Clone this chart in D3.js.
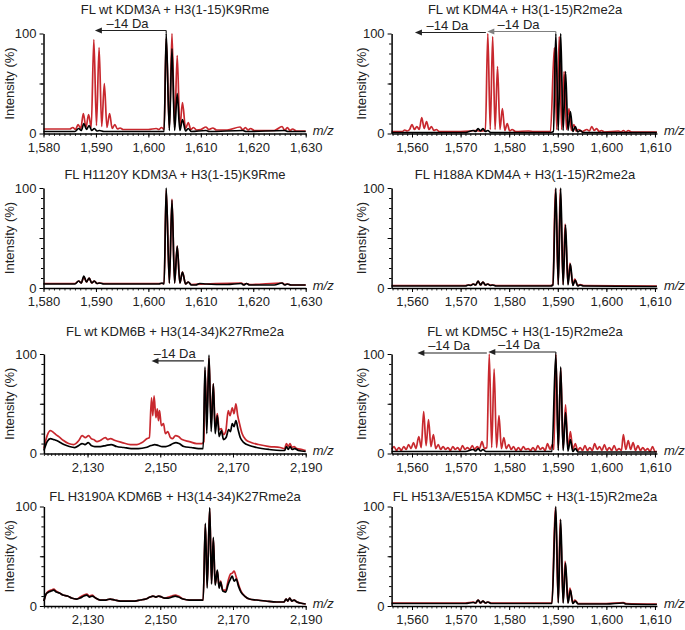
<!DOCTYPE html>
<html>
<head>
<meta charset="utf-8">
<script src="https://cdn.jsdelivr.net/npm/d3@7"></script>
<style>
  body { margin: 0; background: #fff; }
  text { font-family: "Liberation Sans", Arial, sans-serif; fill: #222; }
</style>
</head>
<body>
<script>
// ---- data (m/z, intensity %) ----
var titles = [
  "FL wt KDM3A + H3(1-15)K9Rme",
  "FL wt KDM4A + H3(1-15)R2me2a",
  "FL H1120Y KDM3A + H3(1-15)K9Rme",
  "FL H188A KDM4A + H3(1-15)R2me2a",
  "FL wt KDM6B + H3(14-34)K27Rme2a",
  "FL wt KDM5C + H3(1-15)R2me2a",
  "FL H3190A KDM6B + H3(14-34)K27Rme2a",
  "FL H513A/E515A KDM5C + H3(1-15)R2me2a"
];

var k9Ticks = [1580, 1590, 1600, 1610, 1620, 1630];
var r2Ticks = [1560, 1570, 1580, 1590, 1600, 1610];
var k27Ticks = [2130, 2150, 2170, 2190];
var yTicks = [0, 50, 100];

var k9WtRed = [[1580,4.5],[1585,4.5],[1585.6,6],[1586.1,4],[1586.6,9],[1587.1,5],[1587.6,20],[1588.1,6],[1588.6,19],[1589.1,6],[1589.6,94],[1590.1,8],[1590.6,86],[1591.1,7],[1591.6,50],[1592.1,6],[1592.6,20],[1593.1,5],[1593.6,9],[1594.1,4.5],[1594.6,5.5],[1595.2,4],[1600,4],[1601.5,5],[1602,4],[1602.5,6],[1603,4],[1603.4,95],[1604,5],[1604.5,100],[1605,6],[1605.5,78],[1606,6],[1606.5,31],[1607.1,5],[1607.6,11],[1608.1,4],[1608.6,6],[1609.2,3.5],[1610,4],[1611,6.5],[1611.5,4],[1612.3,5.5],[1613,3.5],[1615,3.5],[1617.5,6.5],[1618,3.5],[1618.5,6],[1619,3.5],[1619.5,5],[1620.2,3],[1624,3],[1625.5,7],[1626,3],[1626.5,6],[1627,3],[1627.5,4.5],[1628.2,2.5],[1630,2.5]];
var k9WtBlack = [[1580,2],[1586,2],[1586.7,5],[1587.2,3],[1587.7,10],[1588.2,4],[1588.7,8],[1589.2,3],[1589.7,5],[1590.2,2.5],[1590.7,3],[1591.5,2],[1603,2],[1603.4,100],[1604,3],[1604.5,85],[1605,3],[1605.5,40],[1606,3],[1606.5,14],[1607.1,2.5],[1607.6,5],[1608.2,2],[1611,3],[1611.6,2],[1618,3],[1618.6,2],[1626,3],[1626.6,2],[1630,2]];
var k9WtArrows = [[1603.4, 1589.8, 103]];

var k9MutRed = [[1580,4.5],[1586,4.5],[1586.7,7],[1587.2,5],[1587.7,11],[1588.2,6],[1588.7,10],[1589.2,5],[1589.7,7],[1590.2,4.5],[1590.7,5],[1591.5,4.5],[1602,4.5],[1603,4.5],[1603.4,98],[1604,5],[1604.5,89],[1605,5],[1605.5,42],[1606,5],[1606.5,16],[1607.1,4],[1607.6,6],[1608.2,3.5],[1611,4],[1617.7,5],[1618.2,3.5],[1618.7,4.5],[1619.3,3.5],[1625.5,5],[1626,3.5],[1626.5,4],[1627.2,3],[1630,3]];
var k9MutBlack = [[1580,4],[1586,4],[1586.7,7],[1587.2,5],[1587.7,12],[1588.2,6],[1588.7,10],[1589.2,5],[1589.7,7],[1590.2,4.5],[1590.7,5],[1591.5,4],[1602,4],[1602.6,5],[1603,4],[1603.4,100],[1604,5],[1604.5,88],[1605,5],[1605.5,42],[1606,5],[1606.5,16],[1607.1,4],[1607.6,6],[1608.2,3],[1609,3],[1609.8,4.5],[1611,4],[1615,3.5],[1617.7,4.5],[1618.2,3],[1618.7,4.5],[1619.3,3],[1624,3],[1625.5,5],[1626,3],[1626.5,4],[1627.2,3],[1630,3]];

var r2Kdm4Red = [[1555.8,2],[1558,2],[1558.5,3.5],[1559,2.5],[1559.5,4],[1560,9],[1560.5,4],[1561,7],[1561.5,4],[1562,16],[1562.5,5],[1563,12],[1563.5,4],[1564,7],[1564.5,3],[1565,4],[1565.6,2],[1570,2],[1572,2.5],[1573,3],[1574,2.5],[1575.1,3],[1575.6,100],[1576.1,4],[1576.6,97],[1577.1,4],[1577.6,67],[1578.1,4],[1578.6,25],[1579.1,3],[1579.6,10],[1580.1,2.5],[1580.6,4],[1581.3,2],[1584,2.5],[1585,2],[1588.5,2],[1589.3,86],[1589.8,4],[1590.3,97],[1590.8,4],[1591.3,62],[1591.8,4],[1592.3,25],[1592.8,3],[1593.3,9],[1593.8,2.5],[1594.3,4],[1595,2],[1596,4],[1596.5,2.5],[1597,7],[1597.5,3],[1598,5],[1598.5,2],[1599,3],[1599.6,1.5],[1602.5,2.5],[1603,1.5],[1603.5,3],[1604,1.5],[1604.5,3],[1605.2,1.5],[1610.4,1.5]];
var r2Kdm4Black = [[1555.8,1],[1571,1],[1572.6,3],[1573.1,2],[1573.6,5],[1574.1,2.5],[1574.6,5],[1575.1,2],[1575.6,3],[1576.2,1],[1588.5,1],[1589.1,2],[1589.6,100],[1590.1,3],[1590.6,100],[1591.1,3],[1591.6,62],[1592.1,3],[1592.6,22],[1593.1,2],[1593.6,7],[1594.1,1.5],[1594.6,3],[1595.2,1],[1610.4,1]];
var r2Kdm4Arrows = [[1589.6, 1575.5, 102], [1575.2, 1560.6, 101]];

var r2Kdm4MutRed = [[1555.8,2.5],[1571,2.5],[1571.6,3],[1572.1,3],[1572.6,4],[1573.1,3],[1573.6,7],[1574.1,3],[1574.6,6],[1575.1,3],[1575.6,4],[1576.1,3],[1576.6,3],[1577.3,2.5],[1588.5,2.5],[1589,3],[1589.5,99],[1590.1,4],[1590.5,99],[1591.1,4],[1591.5,64],[1592.1,4],[1592.5,25],[1593.1,3],[1593.5,9],[1594.1,2.5],[1594.6,3.5],[1595.3,2.5],[1610.4,2]];
var r2Kdm4MutBlack = [[1555.8,2],[1571,2],[1571.6,3],[1572.1,2.5],[1572.6,4],[1573.1,3],[1573.6,7],[1574.1,3],[1574.6,6],[1575.1,3],[1575.6,4],[1576.1,2.5],[1576.6,3],[1577.3,2],[1588.5,2],[1589,3],[1589.6,100],[1590.1,3],[1590.6,100],[1591.1,3],[1591.6,63],[1592.1,3],[1592.6,24],[1593.1,2.5],[1593.6,8],[1594.1,2],[1594.6,3],[1595.3,2],[1610.4,1.5]];

var k27WtRed = [[2118,5],[2118.9,18],[2119.8,23],[2120.7,21],[2121.3,19],[2122.1,17],[2123.4,13],[2124.8,10],[2126.2,9],[2127.6,13],[2128.5,18],[2129.4,16],[2130.3,18],[2131,15],[2131.7,14],[2132.6,12],[2133.5,13],[2134.9,16],[2135.6,14],[2136.3,15],[2137.6,13],[2139.5,11],[2141.8,9],[2143.6,9],[2145,11],[2146.4,15],[2147,16],[2147.6,56],[2147.95,38],[2148.3,58],[2148.8,36],[2149.2,45],[2149.5,33],[2149.8,43],[2150.3,28],[2150.9,30],[2151.4,20],[2152.1,22],[2152.8,16],[2153.4,15],[2154.2,18],[2155,17],[2156,14],[2158,12],[2160,10],[2161.5,10],[2162,12],[2162.3,84],[2162.8,35],[2163.4,96],[2164,30],[2164.6,70],[2165.1,27],[2165.7,40],[2166.2,24],[2166.8,25],[2167.4,19],[2168,22],[2168.7,43],[2169.2,38],[2169.8,46],[2170.3,40],[2170.8,50],[2171.3,38],[2171.8,30],[2172.5,20],[2173.5,14],[2175,11],[2177,9],[2180,7],[2183,6],[2184.2,5],[2184.7,10],[2185.2,7],[2185.7,10],[2186.2,6],[2186.8,7],[2187.5,5],[2189,4],[2190,3]];
var k27WtBlack = [[2118,3],[2118.9,12],[2119.8,15],[2120.7,14],[2121.5,13],[2122.5,11],[2123.5,9],[2125,7],[2126.5,6],[2127.6,8],[2128.5,10],[2129.3,9],[2130.2,11],[2131,8],[2132,7],[2133.5,7],[2135,8],[2136.5,9],[2138,7],[2140,6],[2142,5],[2144,5],[2146,6],[2147.5,8],[2148.5,9],[2149.5,8],[2150.5,7],[2151.5,7],[2152.5,8],[2153.5,10],[2154.3,11],[2155.2,10],[2156.5,7],[2158.5,6],[2160.5,5],[2161.8,5],[2162.3,87],[2162.8,20],[2163.4,99],[2164,22],[2164.6,70],[2165.1,20],[2165.7,38],[2166.2,17],[2166.8,23],[2167.4,14],[2168.1,16],[2168.8,24],[2169.3,22],[2169.8,30],[2170.3,27],[2170.8,33],[2171.4,24],[2172,16],[2173,11],[2174.5,8],[2176.5,6],[2180,4],[2183,3],[2184.2,3],[2184.7,7],[2185.2,4],[2185.7,7],[2186.3,4],[2187,5],[2188,3],[2190,2]];
var k27WtArrows = [[2162.0, 2147.6, 93]];

var k27MutRed = [[2118,5],[2118.6,12],[2119.3,15],[2120,16],[2120.7,17],[2121.4,15],[2122.3,13],[2123.2,11],[2124.5,10],[2125.6,8],[2127,7],[2128,9],[2129,11],[2129.8,12],[2130.5,10],[2131.3,11],[2132.2,8],[2133.5,6],[2135,6],[2136.2,7],[2137.5,6],[2139,5],[2141,5],[2143,5],[2144.5,6],[2146,7],[2147.2,9],[2148,10],[2148.8,9],[2149.6,10],[2150.4,9],[2151.2,8],[2152.2,9],[2153.2,10],[2154.1,11],[2155,10],[2156.3,7],[2158,6],[2160,6],[2161.8,6],[2162.4,82],[2162.9,20],[2163.6,98],[2164.1,23],[2164.6,68],[2165.1,22],[2165.7,35],[2166.2,19],[2166.6,25],[2167.2,16],[2168,16],[2168.7,26],[2169.3,32],[2169.8,33],[2170.3,35],[2170.9,29],[2171.5,22],[2172.2,15],[2173.2,10],[2174.5,7],[2176.5,6],[2179,5],[2182,4],[2184,4],[2184.6,7],[2185.1,5],[2185.6,8],[2186.2,5],[2186.8,6],[2187.6,4],[2188.5,3],[2190,2]];
var k27MutBlack = [[2118,5],[2118.6,12],[2119.3,14],[2120,15],[2120.7,16],[2121.4,14],[2122.3,13],[2123.2,11],[2124.5,10],[2125.6,8],[2127,7],[2128,8],[2129,10],[2129.8,11],[2130.5,9],[2131.3,10],[2132.2,8],[2133.5,6],[2135,6],[2136.2,7],[2137.5,6],[2139,5],[2141,5],[2143,5],[2144.5,6],[2146,7],[2147.2,9],[2148,10],[2148.8,9],[2149.6,10],[2150.4,9],[2151.2,8],[2152.2,8],[2153.2,9],[2154.1,10],[2155,9],[2156.3,7],[2158,6],[2160,6],[2161.8,6],[2162.4,83],[2162.9,18],[2163.6,99],[2164.1,22],[2164.6,69],[2165.1,21],[2165.7,36],[2166.2,18],[2166.6,24],[2167.2,15],[2168,14],[2168.7,22],[2169.3,27],[2169.8,30],[2170.3,25],[2170.9,27],[2171.5,20],[2172.2,14],[2173.2,10],[2174.5,7],[2176.5,6],[2179,5],[2182,4],[2184,4],[2184.6,7],[2185.1,5],[2185.6,8],[2186.2,5],[2186.8,6],[2187.6,4],[2188.5,3],[2190,2]];

var r2Kdm5Red = [[1555.8,4],[1556.3,7],[1556.8,3],[1557.3,6],[1557.8,3],[1558.3,7],[1558.8,4],[1559.3,9],[1559.8,5],[1560.3,11],[1560.8,5],[1561.4,17],[1561.9,6],[1562.4,42],[1562.9,8],[1563.4,34],[1563.9,7],[1564.4,19],[1564.9,5],[1565.4,9],[1565.9,4],[1566.4,7],[1566.9,4],[1567.4,6],[1567.9,3],[1568.4,7],[1568.9,4],[1569.4,6],[1569.9,3],[1570.4,8],[1570.9,4],[1571.4,6],[1571.9,4],[1572.4,8],[1572.9,4],[1573.4,7],[1573.9,5],[1574.4,12],[1574.9,5],[1575.4,6],[1575.9,100],[1576.4,6],[1576.9,85],[1577.4,6],[1577.9,38],[1578.4,5],[1578.9,16],[1579.4,5],[1579.9,9],[1580.4,4],[1580.9,7],[1581.4,3],[1581.9,6],[1582.4,3],[1582.9,7],[1583.4,4],[1583.9,5],[1584.4,3],[1584.9,6],[1585.4,3],[1585.9,8],[1586.4,4],[1586.9,6],[1587.4,3],[1587.9,10],[1588.4,4],[1588.9,9],[1589.2,4],[1589.6,100],[1590.1,5],[1590.6,86],[1591.1,5],[1591.6,49],[1592.1,5],[1592.6,22],[1593.1,4],[1593.6,10],[1594.1,3],[1594.6,6],[1595.1,3],[1595.6,8],[1596.1,3],[1596.6,6],[1597.1,3],[1597.6,10],[1598.1,4],[1598.6,7],[1599.1,3],[1599.6,9],[1600.1,3],[1600.6,6],[1601.1,3],[1601.6,8],[1602.1,3],[1602.6,5],[1603.1,3],[1603.5,19],[1604,4],[1604.5,13],[1605,4],[1605.5,11],[1606,3],[1606.5,8],[1607,3],[1607.5,6],[1608,3],[1608.5,5],[1609,2],[1609.5,7],[1610,2],[1610.4,2]];
var r2Kdm5Black = [[1555.8,2],[1571,2],[1572.6,4],[1573.1,2.5],[1573.6,5],[1574.1,2.5],[1574.6,4],[1575.2,2],[1588.8,2],[1589.6,100],[1590.1,3],[1590.6,87],[1591.1,3],[1591.6,41],[1592.1,2.5],[1592.6,14],[1593.1,2],[1593.6,5],[1594.2,1.5],[1610.4,1.5]];
var r2Kdm5Arrows = [[1589.6, 1575.7, 102], [1575.4, 1561.1, 101]];

var r2Kdm5MutRed = [[1555.8,3],[1571,3],[1572.6,4],[1573.1,3],[1573.6,6],[1574.1,3],[1574.6,5],[1575.1,3],[1575.6,4],[1576.3,3],[1588.8,3],[1589.5,99],[1590.1,4],[1590.5,87],[1591.1,4],[1591.5,45],[1592.1,3.5],[1592.5,18],[1593.1,3],[1593.5,6],[1594.2,2.5],[1600,2.5],[1603.5,3.5],[1604,2.5],[1610.4,2]];
var r2Kdm5MutBlack = [[1555.8,2.5],[1571,2.5],[1572.6,3.5],[1573.1,3],[1573.6,6],[1574.1,3],[1574.6,5],[1575.1,3],[1575.6,4],[1576.3,2.5],[1588.8,2.5],[1589.6,100],[1590.1,3],[1590.6,87],[1591.1,3],[1591.6,43],[1592.1,3],[1592.6,16],[1593.1,2.5],[1593.6,5],[1594.2,2],[1600,2],[1603.5,3],[1604,2],[1610.4,1.5]];

// ---- layout ----
var width = 685;
var height = 630;
var rowTop = [33.5, 188, 354, 506.5];
var rowBot = [133.5, 288, 453.5, 606];
var titleY = [13.5, 179, 335.5, 500.5];
var colTitleX = [175, 525];
var colLabelX = [9, 361];
var red = "#c8282e";

var xK9 = d3.scaleLinear().domain([1580, 1630]).range([43.5, 305.7]);
var xK27 = d3.scaleLinear().domain([2118, 2190]).range([43.9, 305.7]);
var xR2 = d3.scaleLinear().domain([1555.8, 1610.4]).range([391.6, 656.9]);

var panels = [
  {col: 0, row: 0, x: xK9, ticks: k9Ticks, red: k9WtRed, black: k9WtBlack, arrows: k9WtArrows, arrowColors: ["#222"]},
  {col: 1, row: 0, x: xR2, ticks: r2Ticks, red: r2Kdm4Red, black: r2Kdm4Black, arrows: r2Kdm4Arrows, arrowColors: ["#808080", "#222"]},
  {col: 0, row: 1, x: xK9, ticks: k9Ticks, red: k9MutRed, black: k9MutBlack, arrows: [], arrowColors: []},
  {col: 1, row: 1, x: xR2, ticks: r2Ticks, red: r2Kdm4MutRed, black: r2Kdm4MutBlack, arrows: [], arrowColors: []},
  {col: 0, row: 2, x: xK27, ticks: k27Ticks, red: k27WtRed, black: k27WtBlack, arrows: k27WtArrows, arrowColors: ["#222"]},
  {col: 1, row: 2, x: xR2, ticks: r2Ticks, red: r2Kdm5Red, black: r2Kdm5Black, arrows: r2Kdm5Arrows, arrowColors: ["#222", "#222"]},
  {col: 0, row: 3, x: xK27, ticks: k27Ticks, red: k27MutRed, black: k27MutBlack, arrows: [], arrowColors: []},
  {col: 1, row: 3, x: xR2, ticks: r2Ticks, red: r2Kdm5MutRed, black: r2Kdm5MutBlack, arrows: [], arrowColors: []}
];

var svg = d3.select("body")
    .append("svg")
    .attr("width", width)
    .attr("height", height);

panels.forEach(function(p, i) {
    var g = svg.append("g");
    var x = p.x;
    var y = d3.scaleLinear().domain([0, 100]).range([rowBot[p.row], rowTop[p.row]]);
    var x0 = x.range()[0], x1 = x.range()[1];
    var dom = x.domain();

    // title
    g.append("text")
        .attr("x", colTitleX[p.col])
        .attr("y", titleY[p.row])
        .attr("text-anchor", "middle")
        .style("font-size", "13px")
        .text(titles[i]);

    // y label
    g.append("text")
        .attr("transform", "translate(" + colLabelX[p.col] + "," + ((rowTop[p.row] + rowBot[p.row]) / 2) + ") rotate(-90)")
        .attr("text-anchor", "middle")
        .attr("dy", "0.35em")
        .style("font-size", "13px")
        .text("Intensity (%)");

    // spectra: red under black
    var line = d3.line()
        .curve(d3.curveMonotoneX)
        .x(function(d) { return x(d[0]); })
        .y(function(d) { return y(d[1]); });

    g.append("path")
        .attr("d", line(p.red))
        .attr("fill", "none")
        .attr("stroke", red)
        .attr("stroke-width", 1.7)
        .attr("stroke-linejoin", "round");

    g.append("path")
        .attr("d", line(p.black))
        .attr("fill", "none")
        .attr("stroke", "#000")
        .attr("stroke-width", 1.7)
        .attr("stroke-linejoin", "round");

    // x axis: minor ticks every 1, labelled major ticks
    var minor = d3.range(Math.ceil(dom[0]), Math.floor(dom[1]) + 1);
    g.append("g")
        .attr("transform", "translate(0," + y(0) + ")")
        .call(d3.axisBottom(x).tickValues(minor).tickSize(2.5).tickSizeOuter(0).tickFormat(""))
        .call(function(a) { a.select(".domain").attr("stroke-width", 1.6); a.selectAll(".tick line").attr("stroke-width", 0.8); });

    g.append("g")
        .attr("transform", "translate(0," + y(0) + ")")
        .call(d3.axisBottom(x).tickValues(p.ticks).tickSize(4).tickPadding(5).tickSizeOuter(0).tickFormat(d3.format(",")))
        .call(function(a) {
            a.select(".domain").remove();
            a.selectAll("text").style("font-size", "13px").attr("fill", "#222");
        });

    // y axis
    g.append("g")
        .attr("transform", "translate(" + x0 + ",0)")
        .call(d3.axisLeft(y).tickValues(d3.range(10, 100, 10)).tickSize(2.5).tickSizeOuter(0).tickFormat(""))
        .call(function(a) { a.select(".domain").attr("stroke-width", 1.5); });

    g.append("g")
        .attr("transform", "translate(" + x0 + ",0)")
        .call(d3.axisLeft(y).tickValues(yTicks).tickSize(4).tickPadding(3).tickSizeOuter(0)
            .tickFormat(function(d) { return d === 50 ? "" : d; }))
        .call(function(a) {
            a.select(".domain").remove();
            a.selectAll("text").style("font-size", "13px").attr("fill", "#222");
        });

    // m/z label
    g.append("text")
        .attr("x", x1 + 7)
        .attr("y", y(0) + 1.5)
        .style("font-size", "13px")
        .style("font-style", "italic")
        .text("m/z");

    // -14 Da arrows
    p.arrows.forEach(function(a, j) {
        var ay = y(a[2]), xf = x(a[0]), xt = x(a[1]);
        var col = p.arrowColors[j];
        g.append("line")
            .attr("x1", xf).attr("x2", xt + 5)
            .attr("y1", ay).attr("y2", ay)
            .attr("stroke", col)
            .attr("stroke-width", 1.2);
        if (j === 0 && a[2] > 100) {
            g.append("line")
                .attr("x1", xf).attr("x2", xf)
                .attr("y1", ay).attr("y2", y(100))
                .attr("stroke", col)
                .attr("stroke-width", 1.2);
        }
        g.append("path")
            .attr("d", "M" + xt + "," + ay + "L" + (xt + 7) + "," + (ay - 3) + "L" + (xt + 7) + "," + (ay + 3) + "Z")
            .attr("fill", col);
        g.append("text")
            .attr("x", (xf + xt) / 2 - 3)
            .attr("y", ay - 3)
            .attr("text-anchor", "middle")
            .style("font-size", "13px")
            .text("\u201314 Da");
    });
});
</script>
</body>
</html>
